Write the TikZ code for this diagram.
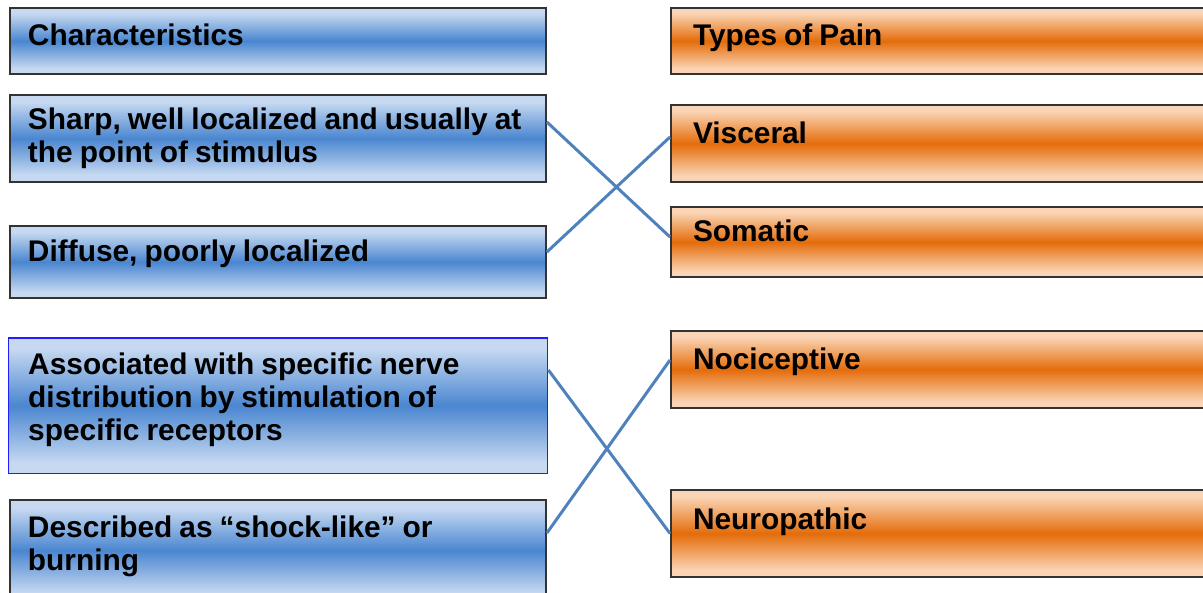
\documentclass[tikz,border=0pt]{standalone}
\usepackage{fontspec}
\setmainfont{Liberation Sans}[WordSpace=0.85]
\definecolor{charblue}{RGB}{74,134,208}
\definecolor{charbluelight}{RGB}{198,217,241}
\definecolor{painorange}{RGB}{228,108,10}
\definecolor{painorangelight}{RGB}{250,212,180}
\definecolor{matchblue}{RGB}{79,129,189}
\definecolor{edgeblue}{RGB}{30,30,255}
\pgfdeclareverticalshading{bluebar}{100bp}{color(0bp)=(charbluelight); color(29bp)=(charbluelight); color(50bp)=(charblue); color(71bp)=(charbluelight); color(100bp)=(charbluelight)}
\pgfdeclareverticalshading{orangebar}{100bp}{color(0bp)=(painorangelight); color(29bp)=(painorangelight); color(50bp)=(painorange); color(71bp)=(painorangelight); color(100bp)=(painorangelight)}

\begin{document}
\begin{tikzpicture}[x=0.02cm,y=-0.02cm]
\tikzstyle box=[draw=black!80, line width=0.04cm, anchor=north west, inner sep=0pt, align=flush left, font=\fontsize{17}{18.8}\selectfont\bfseries]
\tikzstyle charbox=[box, shade, shading=bluebar, minimum width=10.72cm, text width=10cm]
\tikzstyle painbox=[box, shade, shading=orangebar, minimum width=10.9cm, text width=10.02cm]
\tikzstyle oneline=[text height=0.4cm, text depth=0.4cm]
\tikzstyle match=[line width=0.06cm, draw=matchblue]

\useasboundingbox (0,0) rectangle (1203,592);
\clip (0,0) rectangle (1203,592);

\node[charbox, minimum height=1.32cm, text height=0.5cm, text depth=0.3cm] (chr) at (9,7) {Characteristics};
\node[charbox, minimum height=1.74cm] (sharp) at (9,94) {Sharp, well localized and usually at\\the point of stimulus};
\node[charbox, minimum height=1.44cm, oneline] (diffuse) at (9,225) {Diffuse, poorly localized};
\node[charbox, draw=edgeblue, line width=0.03cm, minimum width=10.78cm, minimum height=2.72cm, text depth=1.68cm] (assoc) at (8,337) {Associated with specific nerve\\distribution by stimulation of\\specific receptors};
\node[charbox, minimum height=2.02cm, text depth=0.95cm] (shock) at (9,499) {Described as “shock-like” or\\burning};

\node[painbox, minimum height=1.32cm, text height=0.5cm, text depth=0.3cm] (types) at (670,7) {Types of Pain};
\node[painbox, minimum height=1.54cm, oneline] (visc) at (670,104) {Visceral};
\node[painbox, minimum height=1.4cm, oneline] (som) at (670,206) {Somatic};
\node[painbox, minimum height=1.54cm, oneline] (noci) at (670,330) {Nociceptive};
\node[painbox, minimum height=1.74cm, text height=0.31cm, text depth=0.49cm] (neuro) at (670,489) {Neuropathic};

\draw[match] ([yshift=-0.56cm]sharp.north east) -- ([yshift=-0.62cm]som.north west);
\draw[match] ([yshift=-0.54cm]diffuse.north east) -- ([yshift=-0.66cm]visc.north west);
\draw[match] ([yshift=-0.66cm]assoc.north east) -- (neuro.west);
\draw[match] ([yshift=-0.68cm]shock.north east) -- ([yshift=-0.6cm]noci.north west);
\end{tikzpicture}
\end{document}
